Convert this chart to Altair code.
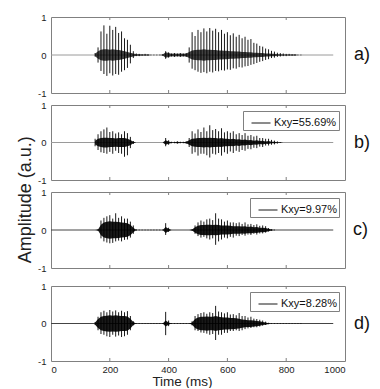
import altair as alt
import pandas as pd

# sample grid of the envelope readings (ms)
T = list(range(150, 851, 10))

# panel a) original signal: spike tops / bottoms and dense core half-width
A_TOP = [0.05, 0.20, 0.62, 0.78, 0.56, 0.77, 0.66, 0.74, 0.58, 0.62, 0.44, 0.40, 0.27, 0.10,
         0.04, 0.03, 0.02, 0.03, 0.02, 0.01, 0.01, 0.01, 0.01, 0.02,
         0.10, 0.07, 0.04, 0.05, 0.04, 0.05, 0.04, 0.05,
         0.20, 0.60, 0.50, 0.66, 0.60, 0.70, 0.62, 0.71, 0.64, 0.69, 0.60, 0.66, 0.56, 0.60, 0.52, 0.57, 0.48, 0.53, 0.44, 0.48,
         0.40, 0.42, 0.32, 0.30, 0.24, 0.22, 0.17, 0.15, 0.11, 0.09, 0.06, 0.05, 0.04, 0.03, 0.03, 0.02, 0.02, 0.01, 0.01]
A_BOT = [-0.04, -0.20, -0.42, -0.50, -0.55, -0.48, -0.54, -0.50, -0.52, -0.44, -0.40, -0.34, -0.22, -0.08,
         -0.03, -0.03, -0.02, -0.02, -0.02, -0.01, -0.01, -0.01, -0.01, -0.02,
         -0.10, -0.07, -0.04, -0.05, -0.04, -0.05, -0.04, -0.05,
         -0.20, -0.36, -0.40, -0.44, -0.47, -0.45, -0.48, -0.44, -0.46, -0.42, -0.43, -0.40, -0.41, -0.38, -0.39, -0.35, -0.36, -0.32, -0.33, -0.30,
         -0.29, -0.26, -0.24, -0.21, -0.18, -0.16, -0.13, -0.11, -0.08, -0.07, -0.05, -0.04, -0.03, -0.03, -0.02, -0.02, -0.02, -0.01, -0.01]
A_CORE = [0.03, 0.10, 0.14, 0.15, 0.15, 0.14, 0.15, 0.14, 0.13, 0.12, 0.10, 0.08, 0.06, 0.04,
          0.02, 0.02, 0.01, 0.01, 0.01, 0.00, 0.00, 0.00, 0.00, 0.01,
          0.07, 0.05, 0.03, 0.04, 0.03, 0.04, 0.03, 0.04,
          0.08, 0.12, 0.13, 0.14, 0.14, 0.15, 0.14, 0.14, 0.13, 0.13, 0.12, 0.12, 0.11, 0.11, 0.10, 0.10, 0.09, 0.09, 0.08, 0.08,
          0.07, 0.07, 0.06, 0.06, 0.05, 0.05, 0.04, 0.04, 0.03, 0.03, 0.02, 0.02, 0.01, 0.01, 0.01, 0.01, 0.01, 0.00, 0.00]

# panel b)
B_TOP = [0.10, 0.22, 0.30, 0.35, 0.40, 0.28, 0.30, 0.24, 0.27, 0.22, 0.30, 0.25, 0.15, 0.04,
         0, 0, 0, 0, 0, 0, 0, 0, 0, 0,
         0.12, 0.06, 0.02, 0.02, 0.03, 0.02, 0.02, 0.03,
         0.12, 0.30, 0.24, 0.35, 0.28, 0.40, 0.30, 0.46, 0.33, 0.36, 0.30, 0.38, 0.27, 0.30, 0.26, 0.30, 0.22, 0.25, 0.20, 0.25,
         0.18, 0.20, 0.16, 0.18, 0.12, 0.12, 0.10, 0.10, 0.07, 0.05, 0.03, 0.01, 0, 0, 0, 0, 0, 0, 0]
B_BOT = [-0.10, -0.20, -0.26, -0.28, -0.30, -0.25, -0.30, -0.22, -0.28, -0.30, -0.38, -0.34, -0.15, -0.04,
         0, 0, 0, 0, 0, 0, 0, 0, 0, 0,
         -0.10, -0.06, -0.02, -0.02, -0.03, -0.02, -0.02, -0.03,
         -0.12, -0.30, -0.26, -0.35, -0.30, -0.30, -0.34, -0.40, -0.30, -0.32, -0.28, -0.35, -0.26, -0.30, -0.24, -0.28, -0.22, -0.25, -0.20, -0.22,
         -0.17, -0.18, -0.14, -0.15, -0.11, -0.12, -0.08, -0.08, -0.06, -0.05, -0.03, -0.01, 0, 0, 0, 0, 0, 0, 0]
B_CORE = [0.05, 0.10, 0.12, 0.13, 0.13, 0.12, 0.12, 0.11, 0.12, 0.12, 0.12, 0.10, 0.07, 0.02,
          0, 0, 0, 0, 0, 0, 0, 0, 0, 0,
          0.06, 0.03, 0.01, 0.01, 0.02, 0.01, 0.01, 0.02,
          0.06, 0.10, 0.11, 0.12, 0.12, 0.13, 0.12, 0.13, 0.12, 0.12, 0.11, 0.12, 0.10, 0.10, 0.09, 0.10, 0.08, 0.09, 0.07, 0.08,
          0.06, 0.07, 0.05, 0.06, 0.04, 0.05, 0.03, 0.04, 0.02, 0.02, 0.01, 0.01, 0, 0, 0, 0, 0, 0, 0]

# panel c)
C_TOP = [0, 0.02, 0.25, 0.32, 0.36, 0.39, 0.30, 0.44, 0.32, 0.36, 0.30, 0.30, 0.22, 0.12,
         0.02, 0.01, 0.01, 0.01, 0.01, 0.01, 0.01, 0.01, 0.01, 0.01,
         0.18, 0.06, 0, 0, 0, 0, 0, 0,
         0, 0.02, 0.12, 0.20, 0.25, 0.22, 0.28, 0.30, 0.26, 0.44, 0.30, 0.28, 0.22, 0.25, 0.20, 0.20, 0.18, 0.20, 0.16, 0.20,
         0.15, 0.16, 0.13, 0.15, 0.11, 0.12, 0.10, 0.05, 0.02, 0.01, 0, 0, 0, 0, 0, 0, 0, 0, 0]
C_BOT = [0, -0.02, -0.22, -0.30, -0.33, -0.35, -0.34, -0.30, -0.28, -0.30, -0.26, -0.25, -0.20, -0.10,
         -0.02, -0.01, -0.01, -0.01, -0.01, -0.01, -0.01, -0.01, -0.01, -0.01,
         -0.13, -0.05, 0, 0, 0, 0, 0, 0,
         0, -0.02, -0.10, -0.16, -0.20, -0.18, -0.22, -0.25, -0.22, -0.39, -0.30, -0.25, -0.20, -0.22, -0.18, -0.20, -0.15, -0.16, -0.13, -0.15,
         -0.12, -0.13, -0.10, -0.12, -0.09, -0.09, -0.07, -0.04, -0.02, -0.01, 0, 0, 0, 0, 0, 0, 0, 0, 0]
C_CORE = [0, 0.01, 0.14, 0.20, 0.22, 0.23, 0.22, 0.22, 0.21, 0.20, 0.19, 0.18, 0.14, 0.06,
          0, 0, 0, 0, 0, 0, 0, 0, 0, 0,
          0.08, 0.03, 0, 0, 0, 0, 0, 0,
          0, 0.01, 0.07, 0.11, 0.13, 0.13, 0.14, 0.14, 0.13, 0.14, 0.13, 0.12, 0.12, 0.12, 0.11, 0.10, 0.10, 0.10, 0.09, 0.10,
          0.08, 0.09, 0.07, 0.08, 0.06, 0.06, 0.05, 0.03, 0.01, 0, 0, 0, 0, 0, 0, 0, 0, 0, 0]

# panel d)
D_TOP = [0.04, 0.18, 0.30, 0.34, 0.30, 0.36, 0.32, 0.35, 0.30, 0.34, 0.30, 0.33, 0.20, 0.06,
         0.01, 0.01, 0.01, 0.01, 0.01, 0.01, 0.01, 0.01, 0.01, 0.01,
         0.31, 0.08, 0.01, 0.01, 0.01, 0.01, 0.01, 0.01,
         0.01, 0.06, 0.20, 0.25, 0.28, 0.30, 0.26, 0.30, 0.28, 0.47, 0.32, 0.30, 0.27, 0.30, 0.24, 0.25, 0.22, 0.28, 0.20, 0.20,
         0.16, 0.18, 0.13, 0.12, 0.10, 0.08, 0.05, 0.02, 0.01, 0.01, 0.01, 0.01, 0.01, 0.01, 0.01, 0.01, 0.01, 0.01, 0.01]
D_BOT = [-0.04, -0.18, -0.28, -0.30, -0.34, -0.36, -0.30, -0.35, -0.32, -0.36, -0.34, -0.30, -0.18, -0.05,
         -0.01, -0.01, -0.01, -0.01, -0.01, -0.01, -0.01, -0.01, -0.01, -0.01,
         -0.31, -0.07, -0.01, -0.01, -0.01, -0.01, -0.01, -0.01,
         -0.01, -0.05, -0.18, -0.20, -0.24, -0.25, -0.27, -0.30, -0.28, -0.44, -0.30, -0.30, -0.25, -0.25, -0.20, -0.20, -0.18, -0.20, -0.18, -0.15,
         -0.13, -0.12, -0.10, -0.10, -0.08, -0.06, -0.04, -0.02, -0.01, -0.01, -0.01, -0.01, -0.01, -0.01, -0.01, -0.01, -0.01, -0.01, -0.01]
D_CORE = [0.03, 0.12, 0.18, 0.20, 0.21, 0.22, 0.21, 0.22, 0.21, 0.20, 0.20, 0.19, 0.13, 0.04,
          0, 0, 0, 0, 0, 0, 0, 0, 0, 0,
          0.08, 0.03, 0, 0, 0, 0, 0, 0,
          0, 0.03, 0.12, 0.16, 0.18, 0.18, 0.19, 0.18, 0.18, 0.20, 0.18, 0.17, 0.16, 0.16, 0.15, 0.15, 0.14, 0.13, 0.11, 0.10,
          0.09, 0.09, 0.08, 0.07, 0.06, 0.04, 0.03, 0.01, 0, 0, 0, 0, 0, 0, 0, 0, 0, 0, 0]

SPAN = [0, 960]                       # extent of the recorded signal (ms)
TICKS = [200, 400, 600, 800]          # inner x ticks
XLABELS = [0, 200, 400, 600, 800, 1000]
YTICKS = [-1, 0, 1]
LEGENDS = [None, "Kxy=55.69%", "Kxy=9.97%", "Kxy=8.28%"]
TAGS = ["a)", "b)", "c)", "d)"]
BASE_COLORS = ["#9a9a9a", "#9a9a9a", "#444444", "#444444"]
CORE_OPACITY = [0.75, 0.9, 0.9, 0.9]

FONT = "Liberation Sans"
W = 294
HEIGHTS = [76, 75, 76, 75]
FRAME = "#808080"


def panel(i, top, bot, core):
    H = HEIGHTS[i]
    df = pd.DataFrame({"t": T, "top": top, "bot": bot, "core": core,
                       "lab": LEGENDS[i] or ""})
    xs = alt.Scale(domain=[0, 1000], nice=False, zero=False)
    ys = alt.Scale(domain=[-1, 1], nice=False)
    if i == 3:
        xax = alt.Axis(values=XLABELS, title="Time (ms)", ticks=False, domain=False,
                       grid=False, labelPadding=3, labelFontSize=9.5,
                       labelExpr="'' + datum.value", titleFontSize=13.5,
                       titleX=131, titleY=24, titleBaseline="alphabetic")
    else:
        xax = None
    yax = alt.Axis(values=YTICKS, ticks=False, domain=False, grid=False, title=None,
                   labelPadding=5, labelFontSize=9.5, labelExpr="'' + datum.value")

    def X(f):
        return alt.X(f, scale=xs, axis=xax)

    def Y(f):
        return alt.Y(f, scale=ys, axis=yax)

    base_df = pd.DataFrame({"s": [SPAN[0]], "e": [SPAN[1]], "z": [0]})
    baseline = alt.Chart(base_df).mark_rule(color=BASE_COLORS[i], strokeWidth=1).encode(
        x=X("s:Q"), x2="e:Q", y=Y("z:Q"))

    core_l = alt.Chart(df).transform_calculate(nc="-datum.core").mark_area(
        color="black", opacity=CORE_OPACITY[i]).encode(x=X("t:Q"), y=Y("nc:Q"), y2="core:Q")

    if LEGENDS[i]:
        col = alt.Color("lab:N", scale=alt.Scale(domain=[LEGENDS[i]], range=["black"]),
                        legend=alt.Legend(title=None, orient="top-right", offset=6,
                                          padding=2, fillColor="white", strokeColor=FRAME,
                                          symbolType="stroke", symbolSize=361,
                                          symbolStrokeWidth=1, symbolStrokeColor="#555555",
                                          symbolOffset=6, labelOffset=3,
                                          labelFontSize=11, labelFont=FONT,
                                          labelColor="#111111"))
    else:
        col = alt.value("black")
    spikes = alt.Chart(df).mark_rule(strokeWidth=1, opacity=0.9).encode(
        x=X("t:Q"), y=Y("bot:Q"), y2="top:Q", color=col)

    tdf = pd.DataFrame({"v": TICKS})
    ttop = alt.Chart(tdf).mark_rule(color=FRAME).encode(
        x=X("v:Q"), y=alt.value(0), y2=alt.value(3))
    tbot = alt.Chart(tdf).mark_rule(color=FRAME).encode(
        x=X("v:Q"), y=alt.value(H - 3), y2=alt.value(H))

    return alt.layer(baseline, core_l, spikes, ttop, tbot).properties(
        width=W, height=H,
        title=alt.TitleParams(TAGS[i], orient="right", angle=0, align="left",
                              baseline="middle", anchor="middle", offset=8, dx=-15,
                              fontSize=18, font=FONT, fontWeight="normal",
                              color="#111111"))


pa = panel(0, A_TOP, A_BOT, A_CORE)
pb = panel(1, B_TOP, B_BOT, B_CORE)
pc = panel(2, C_TOP, C_BOT, C_CORE)
pdd = panel(3, D_TOP, D_BOT, D_CORE)

ab = alt.vconcat(pa, pb, spacing=1).resolve_scale(color="independent")
abc = alt.vconcat(ab, pc, spacing=1).resolve_scale(color="independent")
chart = alt.vconcat(abc, pdd, spacing=7).resolve_scale(color="independent").properties(
    title=alt.TitleParams("Amplitude (a.u.)", orient="left", anchor="middle",
                          fontSize=18, font=FONT, fontWeight="normal",
                          color="#222222", offset=2),
    padding={"left": 9, "top": 3, "right": 0, "bottom": 0}
).configure_view(stroke=FRAME, strokeWidth=1).configure_axis(
    labelFont=FONT, titleFont=FONT, titleFontWeight="normal",
    labelColor="#222222", titleColor="#222222")

chart.save("out.html", embed_options={"renderer": "svg", "actions": False})
